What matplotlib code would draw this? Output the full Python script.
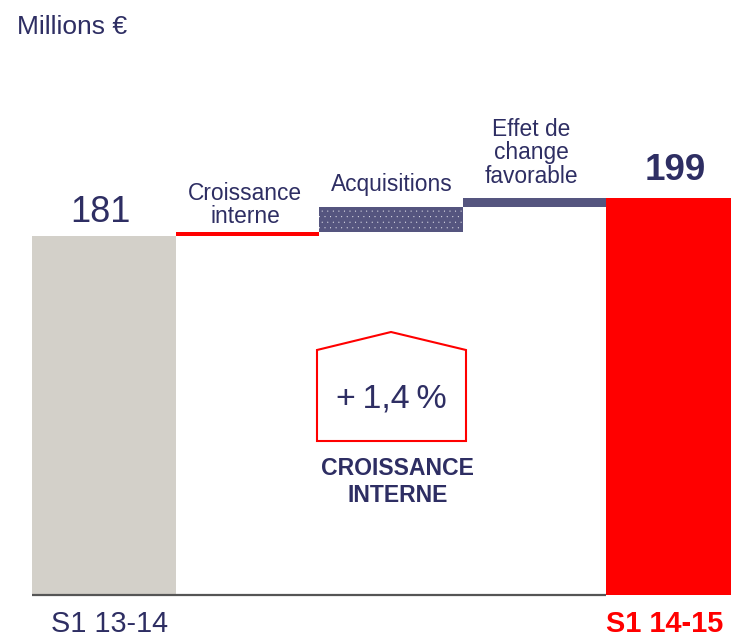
import matplotlib
matplotlib.use("Agg")
import matplotlib.pyplot as plt
from matplotlib.patches import Polygon

plt.rcParams['font.family'] = ['Liberation Sans', 'DejaVu Sans']
plt.rcParams['hatch.linewidth'] = 0

# Donnees
categories = ["S1 13-14", "Croissance\ninterne", "Acquisitions", "Effet de\nchange\nfavorable", "S1 14-15"]
tops = [181, 182.9, 194.9, 199, 199]
starts = [None, 181, 182.9, 194.9, None]
value_labels = ["181", "", "", "", "199"]
growth_label = "+\u20091,4\u2009%"

NAVY = "#2E2E63"
RED = "#FF0000"
colors = ["#D3D0C9", RED, "#55557F", "#55557F", RED]

W, H = 731, 637
fig = plt.figure(figsize=(W / 100, H / 100), dpi=100)
ax = fig.add_axes([0, 0, 1, 1])

# axe en pixels : une barre = 143.6 px, 181 -> y 236, 199 -> y 198
px_x = 143.6
px_y = (236 - 198) / 18
ax.set_xlim(-0.5 - 32 / px_x, -0.5 + (W - 32) / px_x)
base = 181 - (595 - 236) / px_y
ax.set_ylim(base - (H - 595) / px_y, base + 595 / px_y)
ax.axis("off")

for i in range(len(tops)):
    start = base if starts[i] is None else starts[i]
    bar = ax.bar(i, tops[i] - start, width=1, bottom=start, color=colors[i], linewidth=0, zorder=2)
    if i == 2:
        bar[0].set_hatch("...")
        bar[0].set_edgecolor("#FFFFFF")

ax.plot([-0.5, 3.5], [base, base], color="#555555", lw=1.6, zorder=3, solid_capstyle="butt")


def txt(x, y, s, **kw):
    # position donnee en pixels de l'image
    kw.setdefault("color", NAVY)
    kw.setdefault("ha", "center")
    kw.setdefault("va", "center")
    fig.text(x / W, 1 - y / H, s, **kw)


txt(72, 27, "Millions €", fontsize=19)
txt(100, 212, value_labels[0], fontsize=26)
txt(675, 170, value_labels[4], fontsize=26.5, fontweight="bold")
txt(245, 205, categories[1], fontsize=16.4, linespacing=1.02)
txt(392, 185, categories[2], fontsize=16.4)
txt(531, 153, categories[3], fontsize=16.4, linespacing=1.02)
txt(109.5, 624, categories[0], fontsize=20.8)
txt(664.5, 624, categories[4], fontsize=20.8, fontweight="bold", color=RED)

# encadre croissance interne
house = [(317, 350), (391, 332), (466, 350), (466, 441), (317, 441)]
fig.add_artist(Polygon([(x / W, 1 - y / H) for x, y in house], closed=True, fill=False,
                       edgecolor=RED, linewidth=1.5, transform=fig.transFigure))
txt(391, 399, growth_label, fontsize=24.5)
txt(397.5, 482, "CROISSANCE\nINTERNE", fontsize=16.6, fontweight="bold", linespacing=1.22)

fig.savefig("out.png", dpi=100)
